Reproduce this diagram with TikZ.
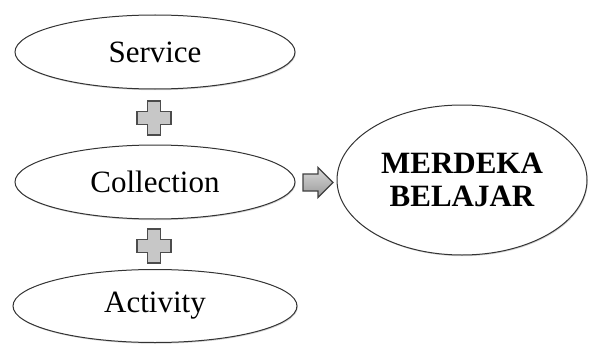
\documentclass[tikz,border=0pt]{standalone}
\usepackage{fontspec}
\setmainfont{Liberation Serif}
\usetikzlibrary{shapes.geometric,shadows}
\tikzset{
  oval/.style={ellipse, draw=black!80, line width=1pt, fill=white,
    inner sep=0pt, font=\fontsize{31}{33}\selectfont,
    drop shadow={opacity=0.35, shadow xshift=0.8pt, shadow yshift=-1.2pt}},
  plussign/.style={fill=black!22, draw=black!70, line width=1.6pt, line join=miter},
  arrowsign/.style={draw=black!75, line width=1.4pt, top color=black!15,
    bottom color=black!40, line join=miter}
}
\begin{document}
\begin{tikzpicture}[x=1pt,y=-1pt]
\useasboundingbox (0,0) rectangle (589,345);
\node[oval, minimum width=280pt, minimum height=74pt] (service) at (155,52) {Service};
\node[oval, minimum width=280pt, minimum height=74pt] (collection) at (155,182) {Collection};
\node[oval, minimum width=284pt, minimum height=73pt] (activity) at (155,306) {Activity};
\node[oval, minimum width=250pt, minimum height=150pt, font=\fontsize{31}{33}\selectfont\bfseries, align=center] (merdeka) at (462,180) {MERDEKA\\BELAJAR};
\coordinate (p1) at (154,118);
\coordinate (p2) at (154,246);
\foreach \p in {p1,p2}{
  \draw[plussign] ([shift={(-6.5,-17)}]\p) -- ++(13,0) -- ++(0,10.5) -- ++(10.5,0) -- ++(0,13)
    -- ++(-10.5,0) -- ++(0,10.5) -- ++(-13,0) -- ++(0,-10.5) -- ++(-10.5,0) -- ++(0,-13)
    -- ++(10.5,0) -- cycle;
}
\coordinate (a) at (318,182.5);
\draw[arrowsign] ([shift={(-15,-8.5)}]a) -- ++(15,0) -- ++(0,-6.5) -- ++(15,15) -- ++(-15,15)
  -- ++(0,-6.5) -- ++(-15,0) -- cycle;
\end{tikzpicture}
\end{document}
